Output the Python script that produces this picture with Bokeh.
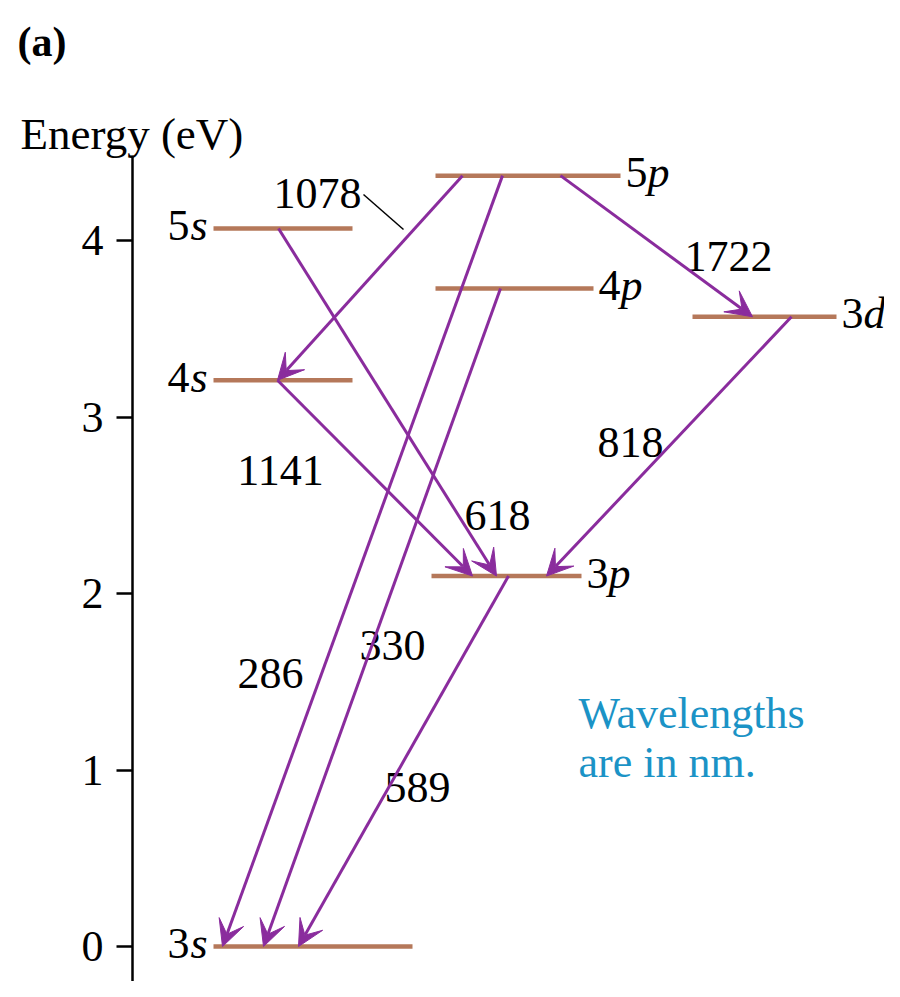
from bokeh.plotting import figure
from bokeh.models import Range1d, LinearAxis, FixedTicker, Arrow, VeeHead, ColumnDataSource
from bokeh.embed import file_html
from bokeh.resources import INLINE
from bokeh.core.properties import value

# ---------------- data ----------------
level_names = ["3s", "3p", "4s", "5s", "4p", "3d", "5p"]
level_energy = [0.0, 2.10, 3.21, 4.07, 3.73, 3.57, 4.37]  # eV
trans_from = ["5p", "5p", "5p", "4p", "5s", "4s", "3d", "3p"]
trans_to = ["4s", "3d", "3s", "3s", "3p", "3p", "3p", "3s"]
wavelength_nm = [1078, 1722, 286, 330, 618, 1141, 818, 589]
energy_ticks = [0, 1, 2, 3, 4]

# ---------------- layout ----------------
PX_PER_EV = 176.4
Y0 = 946.0  # pixel row of 0 eV
W, H = 884, 981


def ev(py):
    return (Y0 - py) / PX_PER_EV


level_x0 = [213, 431, 213, 213, 435, 692, 435]
level_x1 = [412, 581, 352, 352, 593, 836, 620]
trans_x0 = [462, 560, 502, 500, 278, 277, 791, 508]
trans_x1 = [277, 752, 222, 263, 496, 472, 546, 298]
wl_label_x = [317, 728, 270, 392, 497, 280, 630, 417]
wl_label_base = [193, 256, 673, 645, 515, 470, 442, 787]

LEVEL_COLOR = "#b5785a"
ARROW_COLOR = "#8a2c9d"
NOTE_COLOR = "#1b93c6"
FONT = "Liberation Serif"
FS = "44px"

E = dict(zip(level_names, level_energy))

p = figure(width=W, height=H, x_range=Range1d(0, W),
           y_range=Range1d(ev(H), ev(0)),
           x_axis_type=None, y_axis_type=None,
           toolbar_location=None, output_backend="svg",
           min_border=0, outline_line_color=None)
p.background_fill_color = "white"

# energy axis
axis = LinearAxis(fixed_location=132, bounds=(ev(1010), ev(155)),
                  ticker=FixedTicker(ticks=energy_ticks))
axis.axis_line_width = 2.5
axis.axis_line_color = "black"
axis.major_tick_line_width = 2.5
axis.major_tick_out = 16
axis.major_tick_in = 0
axis.minor_tick_line_color = None
axis.major_label_text_font = FONT
axis.major_label_text_font_size = FS
axis.major_label_text_color = "black"
axis.major_label_standoff = 13
p.add_layout(axis, "left")

# energy levels
lv = ColumnDataSource(dict(x0=level_x0, x1=level_x1, y=level_energy))
p.segment(x0="x0", y0="y", x1="x1", y1="y", source=lv,
          line_color=LEVEL_COLOR, line_width=4.5)

# level labels (vertically centred on their level line)
off = 3 / PX_PER_EV
lx_d, ly_d, lt_d, la_d = [], [], [], []
lx_l, ly_l, lt_l, la_l = [], [], [], []
for name, e, x0, x1 in zip(level_names, level_energy, level_x0, level_x1):
    digit, letter = name[0], name[1]
    if letter == "s":
        lx_d.append(189); la_d.append("right")
        lx_l.append(207); la_l.append("right")
    else:
        lx_d.append(x1 + 5); la_d.append("left")
        lx_l.append(x1 + 27); la_l.append("left")
    ly_d.append(e + off); ly_l.append(e + off)
    lt_d.append(digit); lt_l.append(letter)

p.text(x=lx_d, y=ly_d, text=lt_d, text_align=la_d, text_baseline="middle",
       text_font=value(FONT), text_font_size=FS, text_color="black")
p.text(x=lx_l, y=ly_l, text=lt_l, text_align=la_l, text_baseline="middle",
       text_font=value(FONT), text_font_size=FS, text_font_style="italic",
       text_color="black")

# transitions
for f, t, x0, x1 in zip(trans_from, trans_to, trans_x0, trans_x1):
    p.add_layout(Arrow(x_start=x0, y_start=E[f], x_end=x1, y_end=E[t],
                       line_color=ARROW_COLOR, line_width=3,
                       end=VeeHead(size=26, fill_color=ARROW_COLOR,
                                   line_color=ARROW_COLOR, line_width=1)))

# wavelength labels
p.text(x=wl_label_x, y=[ev(b) for b in wl_label_base],
       text=[str(w) for w in wavelength_nm],
       text_align="center", text_baseline="alphabetic",
       text_font=value(FONT), text_font_size=FS, text_color="black")

# leader line for 1078
p.segment(x0=[363], y0=[ev(194)], x1=[403], y1=[ev(229)],
          line_color="black", line_width=1.5)

# titles / notes
p.text(x=[17], y=[ev(41)], text=["(a)"], text_font=value(FONT),
       text_font_size="42px", text_font_style="bold", text_baseline="alphabetic",
       text_color="black")
p.text(x=[20], y=[ev(133)], text=["Energy (eV)"], text_font=value(FONT),
       text_font_size="45px", text_baseline="alphabetic", text_color="black")
p.text(x=[578, 578], y=[ev(713), ev(762)], text=["Wavelengths", "are in nm."],
       text_font=value(FONT), text_font_size=FS, text_baseline="alphabetic",
       text_color=NOTE_COLOR)

open("out.html", "w").write(file_html(p, INLINE))
